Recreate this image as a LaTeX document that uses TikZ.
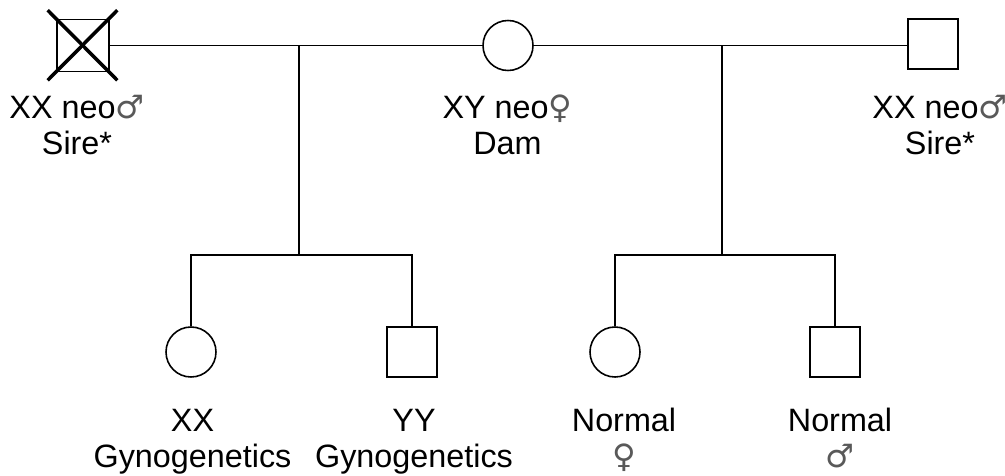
\documentclass[tikz,border=0pt]{standalone}
\usepackage{fontspec}
\setmainfont{Liberation Sans}
\newfontfamily\symfont{DejaVu Sans}
\newcommand{\marsign}{{\symfont\color{black!65}♂}}
\newcommand{\venussign}{{\symfont\color{black!65}♀}}

\begin{document}
\begin{tikzpicture}[line width=0.9pt,
  male/.style={draw, rectangle, minimum size=1cm, inner sep=0pt},
  female/.style={draw, circle, minimum size=1cm, inner sep=0pt},
  tag/.style={align=center, anchor=north, inner sep=0pt, font=\fontsize{18.4}{20.5}\selectfont}]
\useasboundingbox (0,0) rectangle (20.1,-9.5);

\node[male, minimum size=1.04cm] (sireA) at (1.66,-0.91) {};
\node[female] (dam) at (10.16,-0.91) {};
\node[male] (sireB) at (18.66,-0.88) {};
\draw[line width=2pt] ([shift={(-0.17,0.17)}]sireA.north west) -- ([shift={(0.15,-0.16)}]sireA.south east);
\draw[line width=2pt] ([shift={(0.15,0.17)}]sireA.north east) -- ([shift={(-0.17,-0.16)}]sireA.south west);

\draw (sireA.east) -- (dam.west);
\draw (dam.east) -- (sireB.west |- dam.east);

\coordinate (mateA) at (5.98,-0.91);
\coordinate (sibA) at (5.98,-5.10);
\coordinate (mateB) at (14.44,-0.91);
\coordinate (sibB) at (14.44,-5.10);

\node[female] (kidA) at (3.82,-7.04) {};
\node[male] (kidB) at (8.24,-7.04) {};
\node[female] (kidC) at (12.30,-7.04) {};
\node[male] (kidD) at (16.70,-7.04) {};

\draw (mateA) -- (sibA);
\draw (kidA.north) |- (sibA) -| (kidB.north);
\draw (mateB) -- (sibB);
\draw (kidC.north) |- (sibB) -| (kidD.north);

\node[tag] (tagSireA) at (1.54,-1.854) {\strut XX neo\marsign\\Sire*};
\node[tag] (tagDam) at (10.15,-1.854) {\strut XY neo\venussign\\Dam};
\node[tag] (tagSireB) at (18.80,-1.854) {\strut XX neo\marsign\\Sire*};
\node[tag] (tagKidA) at (3.85,-8.114) {\strut XX\\Gynogenetics};
\node[tag] (tagKidB) at (8.28,-8.114) {\strut YY\\Gynogenetics};
\node[tag] (tagKidC) at (12.48,-8.114) {\strut Normal\\\venussign};
\node[tag] (tagKidD) at (16.80,-8.114) {\strut Normal\\\marsign};
\end{tikzpicture}
\end{document}
